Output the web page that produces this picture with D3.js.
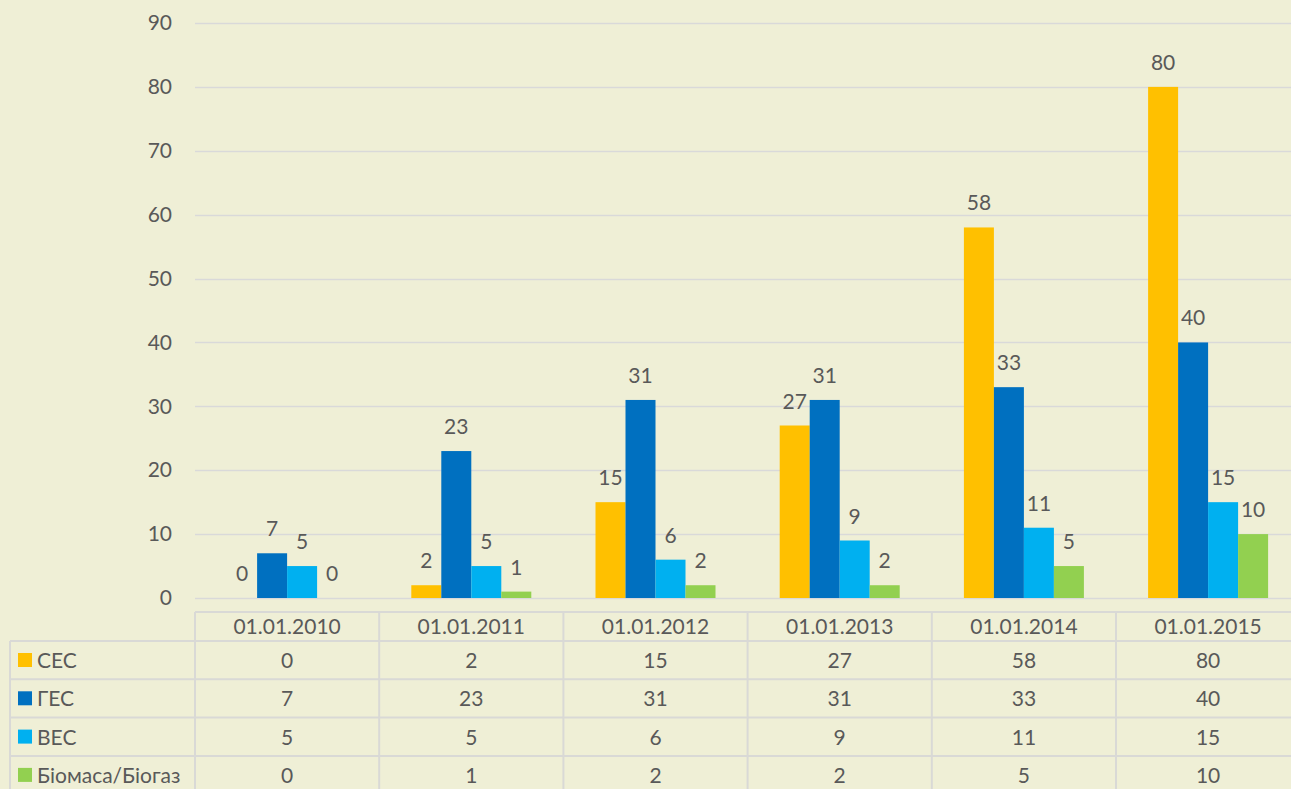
<!DOCTYPE html>
<html>
<head>
<meta charset="utf-8">
<script src="https://cdn.jsdelivr.net/npm/d3@7"></script>
<style>
    html, body { margin: 0; padding: 0; background: #efefd6; overflow: hidden; }
    svg text { font-family: Lato, "Open Sans", sans-serif; fill: #595959; }
</style>
</head>
<body>
<svg id="chart" width="1291" height="789"></svg>
<script>
    'use strict';

    var categories = ['01.01.2010', '01.01.2011', '01.01.2012', '01.01.2013', '01.01.2014', '01.01.2015'],
        seriesNames = ['СЕС', 'ГЕС', 'ВЕС', 'Біомаса/Біогаз'],
        seriesColors = ['#ffc000', '#0070c0', '#00b0f0', '#92d050'],
        sesValues = [0, 2, 15, 27, 58, 80],
        gesValues = [7, 23, 31, 31, 33, 40],
        vesValues = [5, 5, 6, 9, 11, 15],
        bioValues = [0, 1, 2, 2, 5, 10],
        yTicks = [0, 10, 20, 30, 40, 50, 60, 70, 80, 90];

    var series = [sesValues, gesValues, vesValues, bioValues];

    var svg = d3.select('#chart'),
        left = 195,
        catWidth = 184.2,
        plotTop = 23,
        plotBottom = 598,
        fontSize = '21px',
        gridColor = '#d9d9d9',
        tableColor = '#d9d9d6',
        headerTop = 612,
        rowTop = 641,
        rowHeight = 38.3,
        legendLeft = 10;

    var x = d3.scaleBand()
        .domain(categories)
        .range([left, left + catWidth * categories.length])
        .paddingInner(0)
        .paddingOuter(0);

    // four bars of ~30px centred in each category
    var xs = d3.scaleBand()
        .domain(d3.range(seriesNames.length))
        .range([0, x.bandwidth()])
        .paddingOuter(1.07)
        .paddingInner(0);

    var y = d3.scaleLinear()
        .domain([0, 90])
        .range([plotBottom, plotTop]);

    // gridlines
    svg.append('g')
        .selectAll('line')
        .data(yTicks)
        .enter()
        .append('line')
        .attr('x1', left)
        .attr('x2', 1291)
        .attr('y1', function (d) { return Math.round(y(d)) + 0.5; })
        .attr('y2', function (d) { return Math.round(y(d)) + 0.5; })
        .attr('stroke', gridColor)
        .attr('stroke-width', 1.3);

    // y axis labels
    var yAxis = d3.axisLeft(y).tickValues(yTicks).tickSize(0).tickPadding(0);

    svg.append('g')
        .attr('transform', 'translate(172,0)')
        .call(yAxis)
        .call(function (g) {
            g.select('.domain').remove();
            g.selectAll('text')
                .attr('font-size', fontSize)
                .attr('fill', '#595959')
                .attr('font-family', 'Lato, "Open Sans", sans-serif');
        });

    // bars
    var groups = svg.append('g')
        .selectAll('g')
        .data(series)
        .enter()
        .append('g')
        .attr('fill', function (d, i) { return seriesColors[i]; });

    groups.each(function (values, si) {
        var g = d3.select(this);

        g.selectAll('rect')
            .data(values)
            .enter()
            .append('rect')
            .attr('x', function (d, ci) { return x(categories[ci]) + xs(si); })
            .attr('width', xs.bandwidth())
            .attr('y', function (d) { return y(d); })
            .attr('height', function (d) { return plotBottom - y(d); });

        g.selectAll('text')
            .data(values)
            .enter()
            .append('text')
            .attr('x', function (d, ci) { return x(categories[ci]) + xs(si) + xs.bandwidth() / 2; })
            .attr('y', function (d) { return y(d) - 17; })
            .attr('text-anchor', 'middle')
            .attr('font-size', fontSize)
            .text(function (d) { return d; });
    });

    // data table
    var table = svg.append('g').attr('stroke', tableColor).attr('stroke-width', 2),
        tableBottom = rowTop + rowHeight * series.length + 10,
        right = 1291;

    table.append('line')
        .attr('x1', left).attr('x2', right)
        .attr('y1', headerTop).attr('y2', headerTop);

    d3.range(series.length).forEach(function (i) {
        var yy = rowTop + rowHeight * i;

        table.append('line')
            .attr('x1', legendLeft).attr('x2', right)
            .attr('y1', yy).attr('y2', yy);
    });

    table.append('line')
        .attr('x1', legendLeft).attr('x2', legendLeft)
        .attr('y1', rowTop).attr('y2', tableBottom);

    table.selectAll('line.col')
        .data(categories.concat(['end']))
        .enter()
        .append('line')
        .attr('class', 'col')
        .attr('x1', function (d, i) { return left + catWidth * i; })
        .attr('x2', function (d, i) { return left + catWidth * i; })
        .attr('y1', headerTop)
        .attr('y2', tableBottom);

    svg.append('g')
        .selectAll('text')
        .data(categories)
        .enter()
        .append('text')
        .attr('x', function (d) { return x(d) + x.bandwidth() / 2; })
        .attr('y', headerTop + 22)
        .attr('text-anchor', 'middle')
        .attr('font-size', fontSize)
        .text(function (d) { return d; });

    var rows = svg.append('g')
        .selectAll('g')
        .data(series)
        .enter()
        .append('g')
        .attr('transform', function (d, i) {
            return 'translate(0,' + (rowTop + rowHeight * i) + ')';
        });

    rows.append('rect')
        .attr('x', 18)
        .attr('y', 12)
        .attr('width', 14)
        .attr('height', 14)
        .attr('fill', function (d, i) { return seriesColors[i]; });

    rows.append('text')
        .attr('x', 37)
        .attr('y', 27)
        .attr('font-size', fontSize)
        .text(function (d, i) { return seriesNames[i]; });

    rows.selectAll('text.val')
        .data(function (d) { return d; })
        .enter()
        .append('text')
        .attr('class', 'val')
        .attr('x', function (d, ci) { return x(categories[ci]) + x.bandwidth() / 2; })
        .attr('y', 27)
        .attr('text-anchor', 'middle')
        .attr('font-size', fontSize)
        .text(function (d) { return d; });
</script>
</body>
</html>
